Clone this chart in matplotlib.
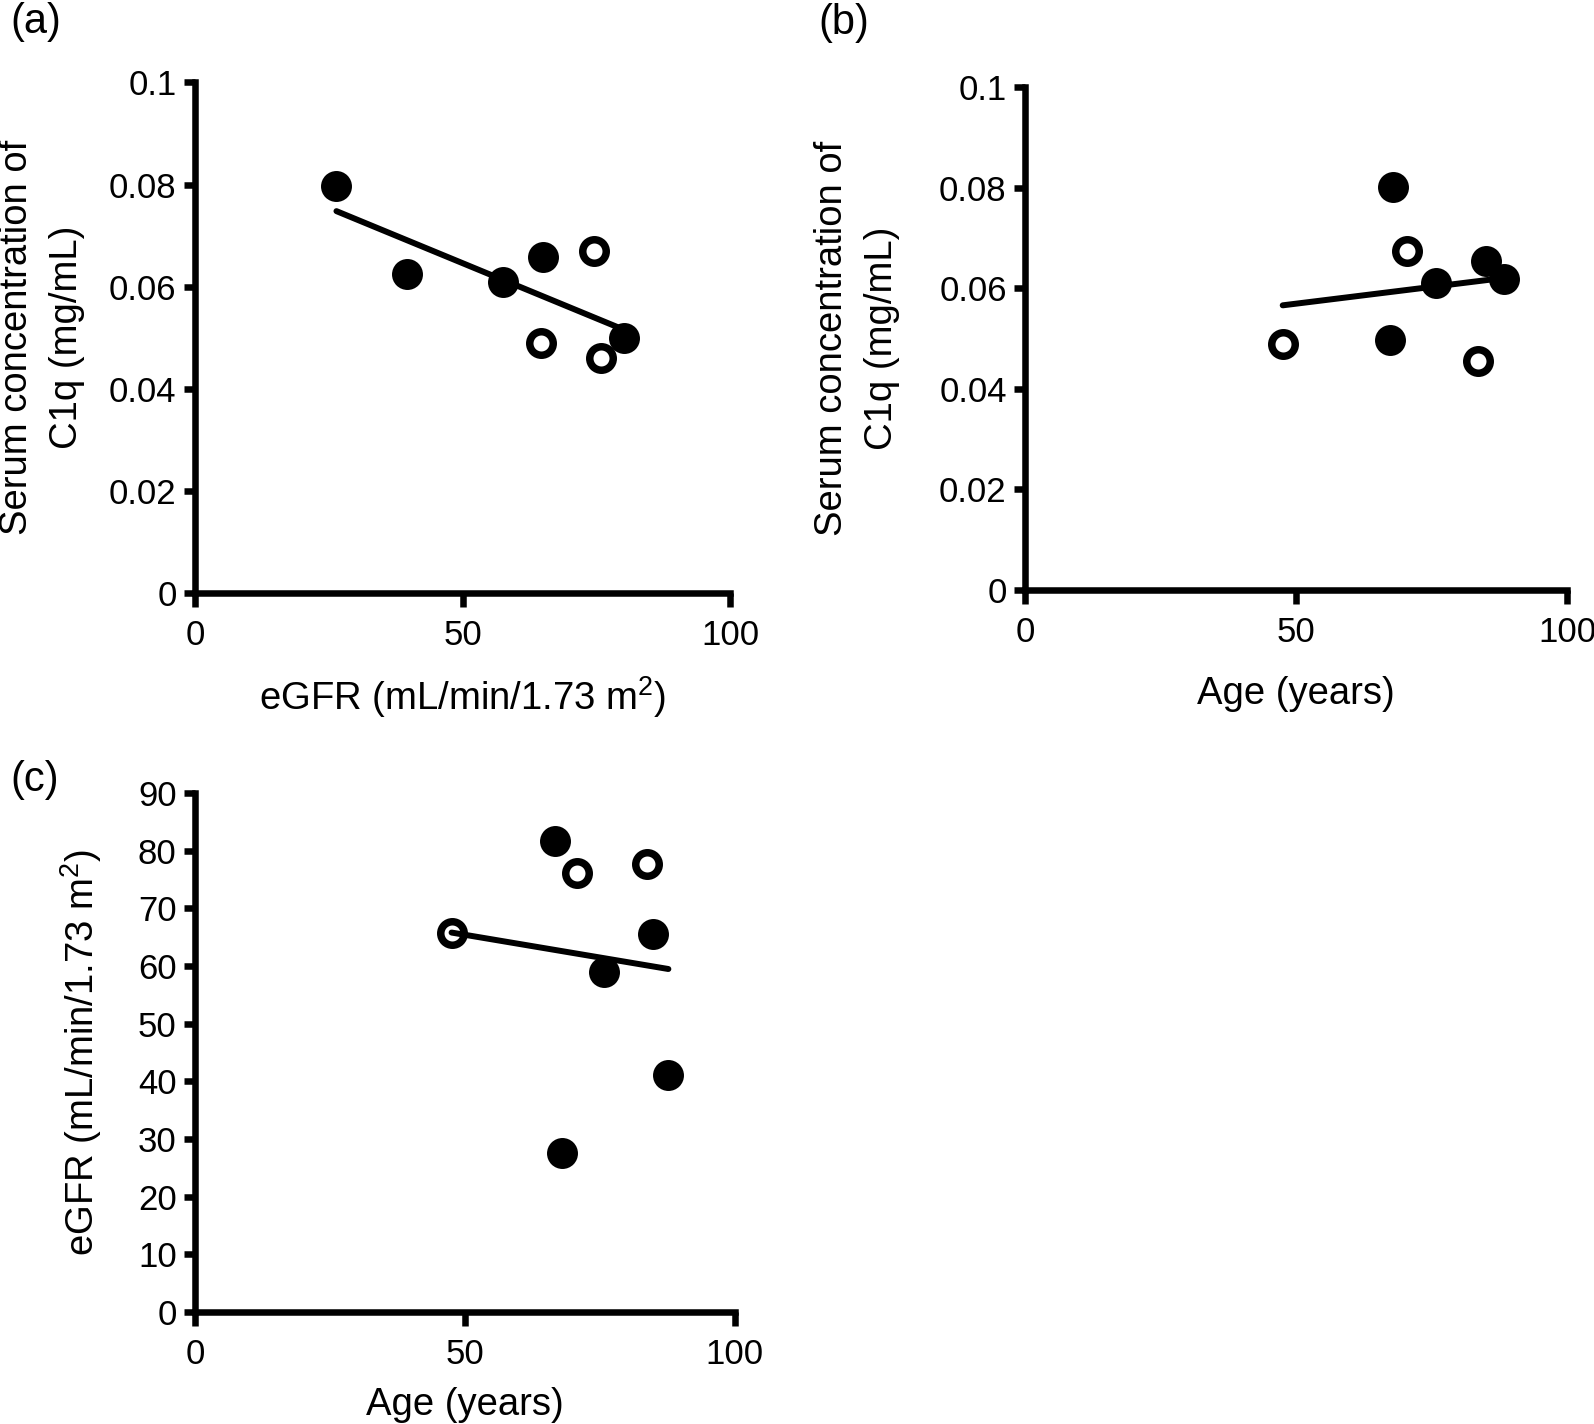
import matplotlib
matplotlib.use("Agg")
import matplotlib.pyplot as plt
import numpy as np

plt.rcParams['font.family'] = ['Liberation Sans', 'DejaVu Sans']
plt.rcParams['mathtext.fontset'] = 'custom'
plt.rcParams['mathtext.rm'] = 'Liberation Sans'

# (a) eGFR vs serum C1q
a_egfr_filled = [26.4, 39.5, 57.6, 65.0, 80.2]
a_c1q_filled = [0.0798, 0.0625, 0.0609, 0.0658, 0.0499]
a_egfr_open = [74.5, 64.6, 75.8]
a_c1q_open = [0.0669, 0.0489, 0.0460]

# (b) age vs serum C1q
b_age_filled = [67.9, 75.9, 85.1, 88.3, 67.3]
b_c1q_filled = [0.0802, 0.0611, 0.0654, 0.0618, 0.0497]
b_age_open = [70.4, 47.5, 83.5]
b_c1q_open = [0.0674, 0.0490, 0.0456]

# (c) age vs eGFR
c_age_filled = [66.6, 68.0, 75.7, 84.9, 87.7]
c_egfr_filled = [81.7, 27.5, 58.9, 65.5, 41.0]
c_age_open = [47.5, 70.7, 83.7]
c_egfr_open = [65.7, 76.2, 77.6]

c1q_ticks = [0, 0.02, 0.04, 0.06, 0.08, 0.1]
c1q_ticklabels = ['0', '0.02', '0.04', '0.06', '0.08', '0.1']
egfr_ticks = list(range(0, 91, 10))
x_ticks = [0, 50, 100]

egfr_label = r'eGFR (mL/min/1.73 $\mathregular{m^2}$)'
c1q_label = 'Serum concentration of\nC1q (mg/mL)'
age_label = 'Age (years)'

TFS = 25      # tick labels
LFS = 27.5    # axis labels
LW = 4.7


def panel(ax, xf, yf, xo, yo, ylim, yticks, yticklabels):
    xs = np.array(list(xf) + list(xo))
    ys = np.array(list(yf) + list(yo))
    k, b = np.polyfit(xs, ys, 1)
    xl = np.array([xs.min(), xs.max()])
    ax.plot(xl, k * xl + b, color='black', lw=4.3, solid_capstyle='round', zorder=3)
    ax.plot(xf, yf, 'o', ms=22.3, mfc='black', mec='black', mew=0, zorder=2, clip_on=False)
    ax.plot(xo, yo, 'o', ms=16.9, mfc='white', mec='black', mew=5.4, zorder=2, clip_on=False)
    ax.set_xlim(0, 100)
    ax.set_ylim(*ylim)
    ax.set_xticks(x_ticks)
    ax.set_yticks(yticks)
    ax.set_yticklabels(yticklabels)
    for s in ['top', 'right']:
        ax.spines[s].set_visible(False)
    for s in ['left', 'bottom']:
        ax.spines[s].set_linewidth(LW)
        ax.spines[s].set_capstyle('projecting')
    ax.tick_params(axis='y', direction='out', length=8, width=LW, pad=5.5, labelsize=TFS)
    ax.tick_params(axis='x', direction='out', length=10, width=LW, pad=9, labelsize=TFS)


fig = plt.figure(figsize=(15.94, 14.24), dpi=100)

ax_a = fig.add_axes([0.12252, 0.58357, 0.33545, 0.35850])
panel(ax_a, a_egfr_filled, a_c1q_filled, a_egfr_open, a_c1q_open, (0, 0.1), c1q_ticks, c1q_ticklabels)
ax_a.set_ylabel(c1q_label, fontsize=LFS, va='center', linespacing=1.5)
ax_a.yaxis.set_label_coords(-0.2858, 0.5)
ax_a.set_xlabel(egfr_label, fontsize=LFS, va='center')
ax_a.xaxis.set_label_coords(0.5, -0.2037)

ax_b = fig.add_axes([0.64335, 0.58567, 0.33971, 0.35323])
panel(ax_b, b_age_filled, b_c1q_filled, b_age_open, b_c1q_open, (0, 0.1), c1q_ticks, c1q_ticklabels)
ax_b.set_ylabel(c1q_label, fontsize=LFS, va='center', linespacing=1.5)
ax_b.yaxis.set_label_coords(-0.311, 0.5)
ax_b.set_xlabel(age_label, fontsize=LFS, va='center')
ax_b.xaxis.set_label_coords(0.5, -0.2068)

ax_c = fig.add_axes([0.12259, 0.07879, 0.33833, 0.36433])
panel(ax_c, c_age_filled, c_egfr_filled, c_age_open, c_egfr_open, (0, 90), egfr_ticks, [str(t) for t in egfr_ticks])
ax_c.set_ylabel(egfr_label, fontsize=LFS, va='center')
ax_c.yaxis.set_label_coords(-0.2112, 0.5)
ax_c.set_xlabel(age_label, fontsize=LFS, va='center')
ax_c.xaxis.set_label_coords(0.5, -0.1797)

fig.text(10 / 1594, 1 - 2 / 1424, '(a)', fontsize=30, ha='left', va='top')
fig.text(818 / 1594, 1 - 3 / 1424, '(b)', fontsize=30, ha='left', va='top')
fig.text(10 / 1594, 1 - 760 / 1424, '(c)', fontsize=30, ha='left', va='top')

fig.savefig('out.png', dpi=100)
